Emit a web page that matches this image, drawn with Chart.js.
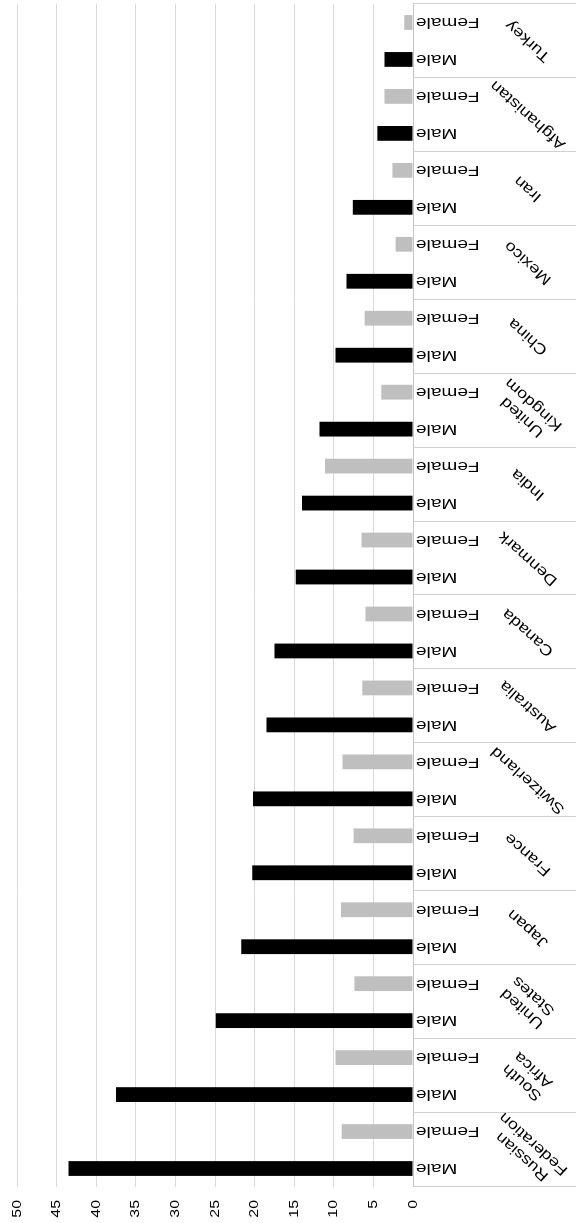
<!DOCTYPE html>
<html>
<head>
<meta charset="utf-8">
<script src="https://cdn.jsdelivr.net/npm/chart.js@4.4.0/dist/chart.umd.min.js"></script>
<style>
  html, body { margin: 0; padding: 0; background: #fff; overflow: hidden; }
  #page { position: relative; width: 576px; height: 1223px; overflow: hidden; }
  /* the chart is drawn as a normal column chart, then turned a quarter turn */
  #wrap {
    position: absolute; left: 0; top: 0; width: 1223px; height: 576px;
    transform-origin: 0 0; transform: translate(0, 1223px) rotate(-90deg);
  }
</style>
</head>
<body>
<div id="page"><div id="wrap"><canvas id="chart" width="1223" height="576"></canvas></div></div>
<script>
// Data
const countries = ['Russian Federation', 'South Africa', 'United States', 'Japan', 'France',
    'Switzerland', 'Australia', 'Canada', 'Denmark', 'India', 'United Kingdom', 'China',
    'Mexico', 'Iran', 'Afghanistan', 'Turkey'];
const genders = ['Male', 'Female'];
const maleValues = [43.5, 37.5, 24.9, 21.7, 20.3, 20.2, 18.5, 17.5, 14.8, 14.0, 11.8, 9.8, 8.4, 7.6, 4.5, 3.6];
const femaleValues = [9.0, 9.8, 7.4, 9.1, 7.5, 8.9, 6.4, 6.0, 6.5, 11.1, 4.0, 6.1, 2.2, 2.6, 3.6, 1.1];
const valueTicks = [0, 5, 10, 15, 20, 25, 30, 35, 40, 45, 50];

const genderColors = ['#000000', '#bfbfbf'];
const fontFamily = "'Liberation Sans', Arial, Helvetica, sans-serif";

// Build the flat list of bars: Male then Female for every country
const labels = [];
const values = [];
const colors = [];
countries.forEach((country, i) => {
    labels.push(genders[0]);
    values.push(maleValues[i]);
    colors.push(genderColors[0]);
    labels.push(genders[1]);
    values.push(femaleValues[i]);
    colors.push(genderColors[1]);
});

// Text drawn a little wider than the font, like the original
function drawText(ctx, text, x, y, angle, stretch, align, dy) {
    ctx.save();
    ctx.translate(x, y);
    ctx.rotate(angle);
    ctx.scale(stretch, 1);
    ctx.textAlign = align;
    ctx.textBaseline = 'middle';
    ctx.fillText(text, 0, dy || 0);
    ctx.restore();
}

// Tick labels, gender labels, country labels and the separators of the category axis
const axisLabels = {
    id: 'axisLabels',
    afterDraw(chart) {
        const ctx = chart.ctx;
        const area = chart.chartArea;
        const xScale = chart.scales.x;
        const yScale = chart.scales.y;
        const slot = (area.right - area.left) / labels.length;

        ctx.save();
        ctx.fillStyle = '#000000';

        // value axis labels
        ctx.font = '13px ' + fontFamily;
        valueTicks.forEach(v => {
            drawText(ctx, String(v), area.left - 13, yScale.getPixelForValue(v), 0, 1.22, 'right');
        });

        // separators between countries
        ctx.strokeStyle = '#d0d0d0';
        ctx.lineWidth = 1;
        for (let i = 0; i <= countries.length; i++) {
            const x = Math.round(area.left + i * slot * 2) + 0.5;
            ctx.beginPath();
            ctx.moveTo(x, area.bottom);
            ctx.lineTo(x, chart.height);
            ctx.stroke();
        }

        // Male / Female
        ctx.font = '15px ' + fontFamily;
        labels.forEach((label, i) => {
            drawText(ctx, label, xScale.getPixelForValue(i), area.bottom + 3, -Math.PI / 2, 1.27, 'right');
        });

        // countries
        ctx.font = '15px ' + fontFamily;
        countries.forEach((country, i) => {
            const cx = area.left + (i * 2 + 1) * slot;
            const lines = country.split(' ');
            lines.forEach((line, j) => {
                const dy = (j - (lines.length - 1) / 2) * 17;
                drawText(ctx, line, cx, 528, -0.84, 1.2, 'center', dy);
            });
        });
        ctx.restore();
    }
};

const ctx = document.getElementById('chart').getContext('2d');
new Chart(ctx, {
    type: 'bar',
    data: {
        labels: labels,
        datasets: [{
            data: values,
            backgroundColor: colors,
            borderWidth: 0,
            categoryPercentage: 1,
            barPercentage: 0.4
        }]
    },
    options: {
        responsive: false,
        animation: false,
        layout: { padding: { left: 36, right: 4, top: 17, bottom: 163 } },
        plugins: { legend: { display: false }, tooltip: { enabled: false } },
        scales: {
            x: {
                grid: { display: false, drawTicks: false },
                border: { display: false },
                ticks: { display: false }
            },
            y: {
                min: 0,
                max: 50,
                ticks: { display: false, stepSize: 5 },
                grid: {
                    drawTicks: false,
                    color: c => (c.tick && c.tick.value === 0) ? '#c4c4c4' : '#d9d9d9'
                },
                border: { display: false }
            }
        }
    },
    plugins: [axisLabels]
});
</script>
</body>
</html>
